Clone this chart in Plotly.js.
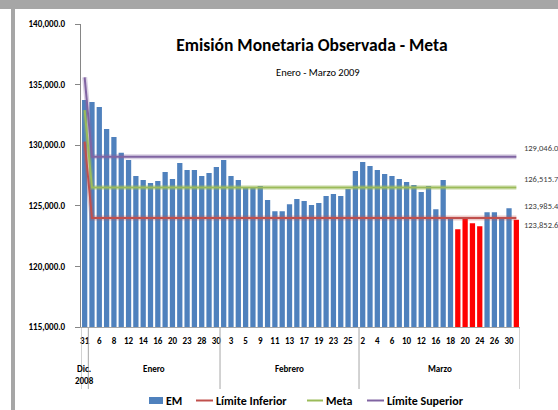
<!DOCTYPE html>
<html>
<head>
<meta charset="utf-8">
<script src="https://cdn.plot.ly/plotly-3.0.1.min.js"></script>
<style>
  html, body { margin:0; padding:0; background:#fff; }
  #wrap { position:relative; width:558px; height:410px; overflow:hidden; }
  #chart { position:absolute; left:0; top:0; width:558px; height:410px; }
  .band { position:absolute; background:#a6a6a6; z-index:5; }
</style>
</head>
<body>
<div id="wrap">
  <div id="chart"></div>
  <div class="band" style="left:0;top:0;width:558px;height:9px;"></div>
  <div class="band" style="left:11px;top:0;width:4px;height:410px;"></div>
</div>
<script>
// ---- data ----
const months = ['Dic.<br>2008','Enero','Febrero','Marzo'];
const monthDays = [
  ['31'],
  ['5','6','7','8','9','12','13','14','15','16','19','20','22','23','26','28','29','30'],
  ['2','3','4','5','6','9','10','11','12','13','16','17','18','19','20','23','24','25','26'],
  ['2','3','4','5','6','9','10','11','12','13','16','17','18','19','20','23','24','25','26','27','30','31']
];
const emValues = [
  133734, 133569, 133155, 131337, 130676, 129381, 128775, 127452, 127122, 126874,
  127039, 127783, 127204, 128527, 127948, 127948, 127452, 127700, 128196, 128775,
  127452, 127122, 126500, 126500, 126626, 125469, 124560, 124560, 125138, 125551,
  125386, 125056, 125221, 125799, 125965, 125799, 126378, 127866, 128610, 128279,
  127948, 127618, 127452, 127204, 126957, 126709, 126130, 126626, 124725, 127122,
  124064, 123072, 123950, 123568, 123320, 124477, 124477, 124064, 124808, 123852.6
];
const limInfStart = 130290, limInf = 123985.4;
const metaStart = 132900, meta = 126515.7;
const limSupStart = 135600, limSup = 129046.0;
const seriesNames = ['EM', 'Límite Inferior', 'Meta', 'Límite Superior'];

// ---- build ----
const days = [].concat(...monthDays);
const n = days.length;
const idx = days.map((d, i) => i);
const seriesFrom = (s, v) => idx.map(i => i === 0 ? s : v);
const limInfArr = seriesFrom(limInfStart, limInf);
const metaArr = seriesFrom(metaStart, meta);
const limSupArr = seriesFrom(limSupStart, limSup);
const barColors = emValues.map((v, i) => v < limInfArr[i] ? '#ff0000' : '#4f81bd');

const FONT = 'Carlito, Lato, "Liberation Sans", sans-serif';
const BLUE = '#4f81bd', RED = '#c0504d', GREEN = '#9bbb59', PURPLE = '#8064a2';
const seriesColors = [BLUE, RED, GREEN, PURPLE];

function glow(y, color) {
  return {x: idx, y: y, type: 'scatter', mode: 'lines', showlegend: false, hoverinfo: 'skip',
          line: {color: color, width: 5}, opacity: 0.3};
}
const traces = [
  {x: idx, y: emValues, type: 'bar', name: seriesNames[0], marker: {color: barColors}, showlegend: false},
  glow(limInfArr, RED), glow(metaArr, GREEN), glow(limSupArr, PURPLE),
  {x: idx, y: limInfArr, type: 'scatter', mode: 'lines', name: seriesNames[1], line: {color: RED, width: 2}, showlegend: false},
  {x: idx, y: metaArr, type: 'scatter', mode: 'lines', name: seriesNames[2], line: {color: GREEN, width: 2}, showlegend: false},
  {x: idx, y: limSupArr, type: 'scatter', mode: 'lines', name: seriesNames[3], line: {color: PURPLE, width: 2}, showlegend: false}
];

// tick labels every other category
const tickvals = idx.filter(i => i % 2 === 0);
const ticktext = tickvals.map(i => days[i]);

// plot-area pixel geometry (for layout helpers only)
const W = 558, H = 410, M = {l: 81, r: 38, t: 24, b: 83};
const pw = W - M.l - M.r, ph = H - M.t - M.b;
const px2x = p => (p - M.l) / pw;
const px2y = p => (H - M.b - p) / ph;

const shapes = [];
const annotations = [];
let start = 0;
const bounds = [-0.5];
monthDays.forEach((g, k) => {
  const end = start + g.length - 1;
  bounds.push(end + 0.5);
  annotations.push({x: (start + end) / 2, y: px2y(k === 0 ? 374 : 368), xref: 'x', yref: 'paper',
    text: months[k], showarrow: false, yanchor: 'middle',
    font: {family: FONT, size: 9, color: '#000', weight: 'bold'}});
  start = end + 1;
});
bounds.forEach(b => shapes.push({type: 'line', xref: 'x', yref: 'paper', x0: b, x1: b, y0: 0, y1: px2y(389),
  line: {color: '#a6a6a6', width: 1}}));

// value labels at the end
const fmt = v => v.toLocaleString('en-US', {minimumFractionDigits: 1, maximumFractionDigits: 1});
const last = n - 1;
[[limSupArr[last], 9], [metaArr[last], 8], [limInfArr[last], 12], [emValues[last], -5]].forEach(([v, ys]) => {
  annotations.push({x: last, y: v, xref: 'x', yref: 'y', text: fmt(v), showarrow: false,
    xanchor: 'left', xshift: 6, yshift: ys, font: {family: FONT, size: 8.5, color: '#404040'}});
});
annotations.push({x: px2x(318), y: px2y(64), xref: 'paper', yref: 'paper', text: 'Enero - Marzo 2009',
  showarrow: false, font: {family: FONT, size: 10.5, color: '#000'}});

// legend (drawn manually to match spacing)
const legY = 400.5;
const legSym = [[149, 163], [196, 213], [307, 323], [367, 384]];
seriesNames.forEach((name, k) => {
  const [a, b] = legSym[k];
  if (k === 0) {
    shapes.push({type: 'rect', xref: 'paper', yref: 'paper', x0: px2x(a), x1: px2x(b),
      y0: px2y(legY + 3.5), y1: px2y(legY - 3.5), fillcolor: BLUE, line: {width: 0}});
  } else {
    shapes.push({type: 'line', xref: 'paper', yref: 'paper', x0: px2x(a), x1: px2x(b),
      y0: px2y(legY), y1: px2y(legY), line: {color: seriesColors[k], width: 2}});
  }
  annotations.push({x: px2x(b + 1), y: px2y(legY), xref: 'paper', yref: 'paper', text: name,
    showarrow: false, xanchor: 'left', yanchor: 'middle',
    font: {family: FONT, size: 12, color: '#000', weight: 'bold'}});
});

const layout = {
  width: W, height: H,
  margin: M,
  paper_bgcolor: '#fff', plot_bgcolor: '#fff',
  font: {family: FONT, color: '#000'},
  title: {text: 'Emisión Monetaria Observada - Meta', x: 0.559, xref: 'container', xanchor: 'center',
          y: 0.89, yref: 'container', yanchor: 'middle',
          font: {family: FONT, size: 17.5, color: '#000', weight: 'bold'}},
  bargap: 0.28,
  showlegend: false,
  xaxis: {range: [-0.5, n - 0.5], tickmode: 'array', tickvals: tickvals, ticktext: ticktext,
          showline: true, linecolor: '#a6a6a6', linewidth: 1, ticks: '', showgrid: false, zeroline: false,
          tickangle: 0, ticklabelstandoff: 5,
          tickfont: {family: FONT, size: 9, color: '#000', weight: 'bold'}},
  yaxis: {range: [115000, 140000], dtick: 5000, tick0: 115000, tickformat: ',.1f',
          showline: true, linecolor: '#868686', linewidth: 1, ticks: 'outside', ticklen: 5, tickcolor: '#868686',
          showgrid: false, zeroline: false, ticklabelstandoff: 8,
          tickfont: {family: FONT, size: 9, color: '#000', weight: 'bold'}},
  shapes: shapes,
  annotations: annotations
};
Plotly.newPlot('chart', traces, layout, {displayModeBar: false, staticPlot: true});
</script>
</body>
</html>
